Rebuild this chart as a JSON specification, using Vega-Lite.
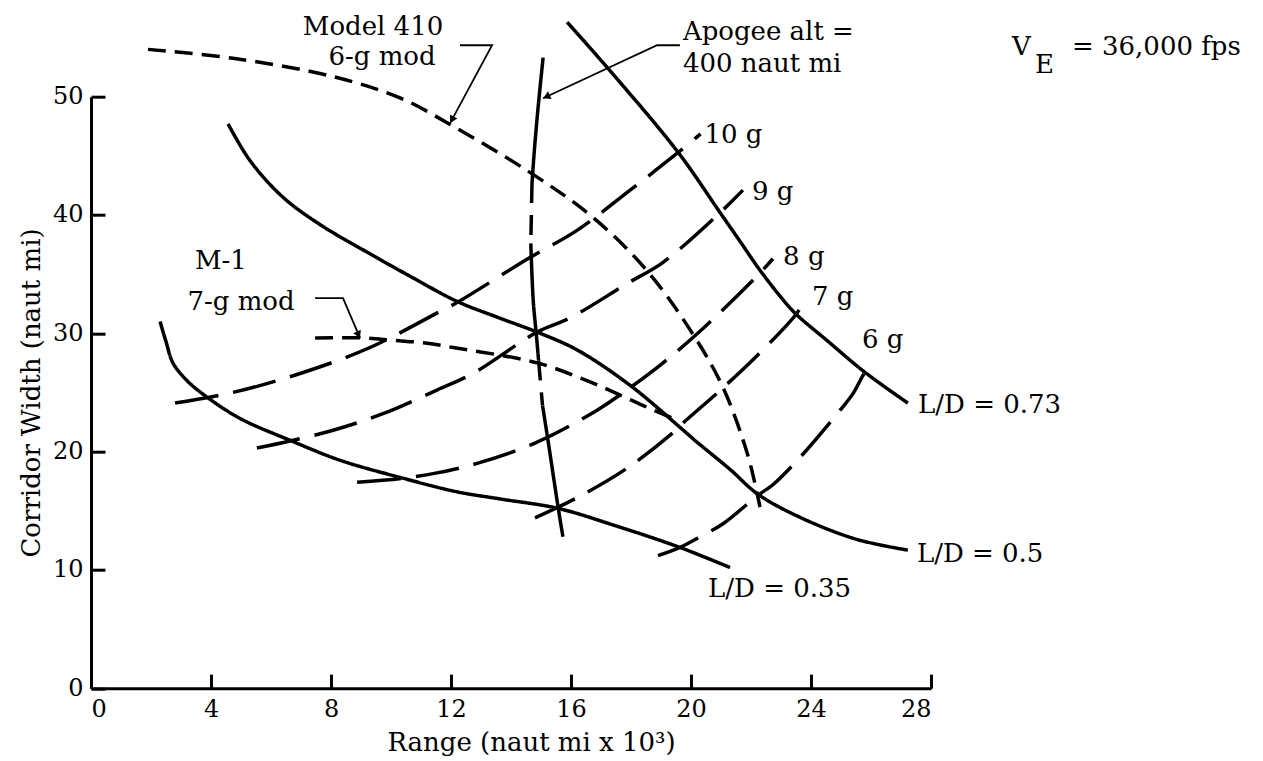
{
  "$schema": "https://vega.github.io/schema/vega-lite/v6.json",
  "width": 840,
  "height": 591.5,
  "autosize": {"type": "none"},
  "padding": {"left": 91, "top": 96.7, "right": 332, "bottom": 73},
  "background": "white",
  "config": {
    "view": {"stroke": null},
    "font": "DejaVu Serif",
    "axis": {
      "grid": false,
      "domainColor": "black",
      "domainWidth": 3,
      "tickColor": "black",
      "tickWidth": 3,
      "labelColor": "black",
      "labelFont": "DejaVu Serif",
      "labelFontSize": 24,
      "titleColor": "black",
      "titleFont": "DejaVu Serif",
      "titleFontSize": 26,
      "titleFontWeight": "normal"
    }
  },
  "datasets": {
    "curves": [
      {"curve": "L/D = 0.35", "i": 1, "x": 2.3, "y": 31.0},
      {"curve": "L/D = 0.35", "i": 2, "x": 2.5, "y": 29.3},
      {"curve": "L/D = 0.35", "i": 3, "x": 2.73, "y": 27.5},
      {"curve": "L/D = 0.35", "i": 4, "x": 3.2, "y": 26.0},
      {"curve": "L/D = 0.35", "i": 5, "x": 3.87, "y": 24.6},
      {"curve": "L/D = 0.35", "i": 6, "x": 4.97, "y": 22.8},
      {"curve": "L/D = 0.35", "i": 7, "x": 6.63, "y": 20.96},
      {"curve": "L/D = 0.35", "i": 8, "x": 8.3, "y": 19.27},
      {"curve": "L/D = 0.35", "i": 9, "x": 10.4, "y": 17.75},
      {"curve": "L/D = 0.35", "i": 10, "x": 12.2, "y": 16.6},
      {"curve": "L/D = 0.35", "i": 11, "x": 13.63, "y": 16.0},
      {"curve": "L/D = 0.35", "i": 12, "x": 15.57, "y": 15.2},
      {"curve": "L/D = 0.35", "i": 13, "x": 17.4, "y": 13.8},
      {"curve": "L/D = 0.35", "i": 14, "x": 19.63, "y": 11.9},
      {"curve": "L/D = 0.35", "i": 15, "x": 21.3, "y": 10.2},

      {"curve": "L/D = 0.5", "i": 1, "x": 4.57, "y": 47.7},
      {"curve": "L/D = 0.5", "i": 2, "x": 5.3, "y": 44.6},
      {"curve": "L/D = 0.5", "i": 3, "x": 6.4, "y": 41.5},
      {"curve": "L/D = 0.5", "i": 4, "x": 7.63, "y": 39.2},
      {"curve": "L/D = 0.5", "i": 5, "x": 9.2, "y": 36.86},
      {"curve": "L/D = 0.5", "i": 6, "x": 10.63, "y": 34.83},
      {"curve": "L/D = 0.5", "i": 7, "x": 12.2, "y": 32.7},
      {"curve": "L/D = 0.5", "i": 8, "x": 13.63, "y": 31.28},
      {"curve": "L/D = 0.5", "i": 9, "x": 14.87, "y": 30.1},
      {"curve": "L/D = 0.5", "i": 10, "x": 16.2, "y": 28.6},
      {"curve": "L/D = 0.5", "i": 11, "x": 17.97, "y": 25.6},
      {"curve": "L/D = 0.5", "i": 12, "x": 19.63, "y": 22.06},
      {"curve": "L/D = 0.5", "i": 13, "x": 20.2, "y": 20.8},
      {"curve": "L/D = 0.5", "i": 14, "x": 21.3, "y": 18.5},
      {"curve": "L/D = 0.5", "i": 15, "x": 22.23, "y": 16.4},
      {"curve": "L/D = 0.5", "i": 16, "x": 23.63, "y": 14.45},
      {"curve": "L/D = 0.5", "i": 17, "x": 25.5, "y": 12.6},
      {"curve": "L/D = 0.5", "i": 18, "x": 27.23, "y": 11.67},

      {"curve": "L/D = 0.73", "i": 1, "x": 15.87, "y": 56.3},
      {"curve": "L/D = 0.73", "i": 2, "x": 17.3, "y": 52.2},
      {"curve": "L/D = 0.73", "i": 3, "x": 19.57, "y": 45.3},
      {"curve": "L/D = 0.73", "i": 4, "x": 20.97, "y": 40.2},
      {"curve": "L/D = 0.73", "i": 5, "x": 21.63, "y": 37.79},
      {"curve": "L/D = 0.73", "i": 6, "x": 22.3, "y": 35.33},
      {"curve": "L/D = 0.73", "i": 7, "x": 22.97, "y": 33.14},
      {"curve": "L/D = 0.73", "i": 8, "x": 23.47, "y": 31.7},
      {"curve": "L/D = 0.73", "i": 9, "x": 24.53, "y": 29.4},
      {"curve": "L/D = 0.73", "i": 10, "x": 25.8, "y": 26.7},
      {"curve": "L/D = 0.73", "i": 11, "x": 27.23, "y": 24.1},

      {"curve": "Model 410 6-g mod", "i": 1, "x": 1.9, "y": 54.0},
      {"curve": "Model 410 6-g mod", "i": 2, "x": 4.73, "y": 53.25},
      {"curve": "Model 410 6-g mod", "i": 3, "x": 8.07, "y": 51.7},
      {"curve": "Model 410 6-g mod", "i": 4, "x": 10.3, "y": 49.9},
      {"curve": "Model 410 6-g mod", "i": 5, "x": 11.87, "y": 47.8},
      {"curve": "Model 410 6-g mod", "i": 6, "x": 14.63, "y": 43.6},
      {"curve": "Model 410 6-g mod", "i": 7, "x": 16.73, "y": 39.8},
      {"curve": "Model 410 6-g mod", "i": 8, "x": 18.53, "y": 35.3},
      {"curve": "Model 410 6-g mod", "i": 9, "x": 20.07, "y": 29.9},
      {"curve": "Model 410 6-g mod", "i": 10, "x": 21.07, "y": 25.4},
      {"curve": "Model 410 6-g mod", "i": 11, "x": 21.87, "y": 19.9},
      {"curve": "Model 410 6-g mod", "i": 12, "x": 22.2, "y": 16.5},
      {"curve": "Model 410 6-g mod", "i": 13, "x": 22.3, "y": 15.3},

      {"curve": "M-1 7-g mod", "i": 1, "x": 7.47, "y": 29.6},
      {"curve": "M-1 7-g mod", "i": 2, "x": 9.2, "y": 29.6},
      {"curve": "M-1 7-g mod", "i": 3, "x": 10.07, "y": 29.4},
      {"curve": "M-1 7-g mod", "i": 4, "x": 11.07, "y": 29.2},
      {"curve": "M-1 7-g mod", "i": 5, "x": 12.07, "y": 28.8},
      {"curve": "M-1 7-g mod", "i": 6, "x": 14.87, "y": 27.5},
      {"curve": "M-1 7-g mod", "i": 7, "x": 16.53, "y": 26.0},
      {"curve": "M-1 7-g mod", "i": 8, "x": 17.53, "y": 24.9},
      {"curve": "M-1 7-g mod", "i": 9, "x": 18.53, "y": 23.75},
      {"curve": "M-1 7-g mod", "i": 10, "x": 19.6, "y": 22.6},

      {"curve": "10 g", "i": 1, "x": 2.8, "y": 24.1},
      {"curve": "10 g", "i": 2, "x": 4.73, "y": 25.0},
      {"curve": "10 g", "i": 3, "x": 6.97, "y": 26.6},
      {"curve": "10 g", "i": 4, "x": 9.3, "y": 28.8},
      {"curve": "10 g", "i": 5, "x": 11.6, "y": 31.8},
      {"curve": "10 g", "i": 6, "x": 12.2, "y": 32.6},
      {"curve": "10 g", "i": 7, "x": 14.63, "y": 36.4},
      {"curve": "10 g", "i": 8, "x": 16.2, "y": 38.7},
      {"curve": "10 g", "i": 9, "x": 17.97, "y": 42.1},
      {"curve": "10 g", "i": 10, "x": 19.53, "y": 45.2},
      {"curve": "10 g", "i": 11, "x": 20.32, "y": 46.85},

      {"curve": "9 g", "i": 1, "x": 5.53, "y": 20.3},
      {"curve": "9 g", "i": 2, "x": 6.63, "y": 20.9},
      {"curve": "9 g", "i": 3, "x": 8.07, "y": 21.8},
      {"curve": "9 g", "i": 4, "x": 9.73, "y": 23.2},
      {"curve": "9 g", "i": 5, "x": 11.53, "y": 25.2},
      {"curve": "9 g", "i": 6, "x": 12.73, "y": 26.6},
      {"curve": "9 g", "i": 7, "x": 14.87, "y": 30.1},
      {"curve": "9 g", "i": 8, "x": 15.97, "y": 31.3},
      {"curve": "9 g", "i": 9, "x": 17.87, "y": 34.2},
      {"curve": "9 g", "i": 10, "x": 19.07, "y": 36.0},
      {"curve": "9 g", "i": 11, "x": 20.97, "y": 40.2},
      {"curve": "9 g", "i": 12, "x": 21.73, "y": 42.1},

      {"curve": "8 g", "i": 1, "x": 8.87, "y": 17.4},
      {"curve": "8 g", "i": 2, "x": 10.4, "y": 17.75},
      {"curve": "8 g", "i": 3, "x": 11.53, "y": 18.2},
      {"curve": "8 g", "i": 4, "x": 12.87, "y": 19.0},
      {"curve": "8 g", "i": 5, "x": 14.87, "y": 20.8},
      {"curve": "8 g", "i": 6, "x": 16.87, "y": 23.5},
      {"curve": "8 g", "i": 7, "x": 17.97, "y": 25.4},
      {"curve": "8 g", "i": 8, "x": 19.07, "y": 27.5},
      {"curve": "8 g", "i": 9, "x": 20.4, "y": 30.4},
      {"curve": "8 g", "i": 10, "x": 22.3, "y": 35.1},
      {"curve": "8 g", "i": 11, "x": 22.73, "y": 36.3},

      {"curve": "7 g", "i": 1, "x": 14.8, "y": 14.4},
      {"curve": "7 g", "i": 2, "x": 16.2, "y": 16.1},
      {"curve": "7 g", "i": 3, "x": 17.87, "y": 18.6},
      {"curve": "7 g", "i": 4, "x": 19.4, "y": 21.6},
      {"curve": "7 g", "i": 5, "x": 19.73, "y": 22.4},
      {"curve": "7 g", "i": 6, "x": 21.07, "y": 25.4},
      {"curve": "7 g", "i": 7, "x": 22.2, "y": 28.1},
      {"curve": "7 g", "i": 8, "x": 23.53, "y": 31.7},
      {"curve": "7 g", "i": 9, "x": 23.73, "y": 32.6},

      {"curve": "6 g", "i": 1, "x": 18.9, "y": 11.2},
      {"curve": "6 g", "i": 2, "x": 19.63, "y": 11.9},
      {"curve": "6 g", "i": 3, "x": 20.37, "y": 12.9},
      {"curve": "6 g", "i": 4, "x": 21.07, "y": 13.9},
      {"curve": "6 g", "i": 5, "x": 22.23, "y": 16.3},
      {"curve": "6 g", "i": 6, "x": 22.73, "y": 17.2},
      {"curve": "6 g", "i": 7, "x": 23.63, "y": 19.5},
      {"curve": "6 g", "i": 8, "x": 24.97, "y": 23.5},
      {"curve": "6 g", "i": 9, "x": 25.4, "y": 24.9},
      {"curve": "6 g", "i": 10, "x": 25.8, "y": 26.7},
      {"curve": "6 g", "i": 11, "x": 25.97, "y": 27.1},

      {"curve": "Apogee alt = 400 naut mi (a)", "i": 1, "x": 15.07, "y": 53.3},
      {"curve": "Apogee alt = 400 naut mi (a)", "i": 2, "x": 14.9, "y": 49.0},
      {"curve": "Apogee alt = 400 naut mi (a)", "i": 3, "x": 14.78, "y": 45.5},
      {"curve": "Apogee alt = 400 naut mi (a)", "i": 4, "x": 14.7, "y": 42.7},
      {"curve": "Apogee alt = 400 naut mi (b)", "i": 1, "x": 14.7, "y": 42.7},
      {"curve": "Apogee alt = 400 naut mi (b)", "i": 2, "x": 14.66, "y": 37.6},
      {"curve": "Apogee alt = 400 naut mi (c)", "i": 1, "x": 14.66, "y": 37.6},
      {"curve": "Apogee alt = 400 naut mi (c)", "i": 2, "x": 14.74, "y": 32.8},
      {"curve": "Apogee alt = 400 naut mi (c)", "i": 3, "x": 14.84, "y": 30.0},
      {"curve": "Apogee alt = 400 naut mi (c)", "i": 4, "x": 14.92, "y": 27.7},
      {"curve": "Apogee alt = 400 naut mi (d)", "i": 1, "x": 14.92, "y": 27.7},
      {"curve": "Apogee alt = 400 naut mi (d)", "i": 2, "x": 15.05, "y": 23.9},
      {"curve": "Apogee alt = 400 naut mi (e)", "i": 1, "x": 15.05, "y": 23.9},
      {"curve": "Apogee alt = 400 naut mi (e)", "i": 2, "x": 15.23, "y": 21.0},
      {"curve": "Apogee alt = 400 naut mi (e)", "i": 3, "x": 15.57, "y": 15.3},
      {"curve": "Apogee alt = 400 naut mi (e)", "i": 4, "x": 15.73, "y": 12.8}
    ],
    "leaders": [
      {"leader": "Model 410", "i": 1, "x": 12.3, "y": 54.35},
      {"leader": "Model 410", "i": 2, "x": 13.37, "y": 54.35},
      {"leader": "Model 410", "i": 3, "x": 11.97, "y": 47.76},
      {"leader": "Apogee", "i": 1, "x": 19.63, "y": 54.35},
      {"leader": "Apogee", "i": 2, "x": 18.87, "y": 54.35},
      {"leader": "Apogee", "i": 3, "x": 15.07, "y": 49.87},
      {"leader": "M-1", "i": 1, "x": 7.47, "y": 32.97},
      {"leader": "M-1", "i": 2, "x": 8.4, "y": 32.97},
      {"leader": "M-1", "i": 3, "x": 8.97, "y": 29.59}
    ],
    "arrows": [
      {"leader": "Model 410", "x": 12.05, "y": 48.14},
      {"leader": "Apogee", "x": 15.22, "y": 50.05},
      {"leader": "M-1", "x": 8.9, "y": 29.97}
    ],
    "labelsLeft": [
      {"text": "Apogee alt =", "x": 19.73, "y": 54.78},
      {"text": "400 naut mi", "x": 19.73, "y": 52.07},
      {"text": "10 g", "x": 20.45, "y": 46.07},
      {"text": "9 g", "x": 22.03, "y": 41.25},
      {"text": "8 g", "x": 23.07, "y": 35.76},
      {"text": "7 g", "x": 24.03, "y": 32.38},
      {"text": "6 g", "x": 25.7, "y": 28.74},
      {"text": "L/D = 0.73", "x": 27.57, "y": 23.25},
      {"text": "L/D = 0.5", "x": 27.53, "y": 10.65},
      {"text": "L/D = 0.35", "x": 20.57, "y": 7.69},
      {"text": "V", "x": 30.7, "y": 53.5},
      {"text": "E", "x": 31.47, "y": 51.99},
      {"text": "= 36,000 fps", "x": 32.7, "y": 53.5}
    ],
    "labelsCenter": [
      {"text": "Model 410", "x": 9.4, "y": 55.2},
      {"text": "6-g mod", "x": 9.7, "y": 52.66},
      {"text": "M-1", "x": 4.33, "y": 35.4},
      {"text": "7-g mod", "x": 5.0, "y": 31.95}
    ]
  },
  "encoding": {
    "x": {
      "field": "x",
      "type": "quantitative",
      "scale": {"domain": [0, 28], "nice": false, "zero": false},
      "axis": {
        "values": [0, 4, 8, 12, 16, 20, 24, 28],
        "tickSize": -14,
        "title": "Range (naut mi x 10³)",
        "labelPadding": 23,
        "titlePadding": 8,
        "titleX": 440
      }
    },
    "y": {
      "field": "y",
      "type": "quantitative",
      "scale": {"domain": [0, 50], "nice": false, "zero": false},
      "axis": {
        "values": [0, 10, 20, 30, 40, 50],
        "tickSize": -14,
        "title": "Corridor Width (naut mi)",
        "labelPadding": 22,
        "titlePadding": 8
      }
    }
  },
  "layer": [
    {
      "data": {"name": "curves"},
      "mark": {"type": "line", "color": "black", "strokeWidth": 3.5, "clip": false, "interpolate": "catmull-rom"},
      "encoding": {
        "detail": {"field": "curve", "type": "nominal"},
        "order": {"field": "i", "type": "quantitative"},
        "strokeDash": {
          "field": "curve",
          "type": "nominal",
          "legend": null,
          "scale": {
            "domain": [
              "L/D = 0.35", "L/D = 0.5", "L/D = 0.73",
              "Model 410 6-g mod", "M-1 7-g mod",
              "10 g", "9 g", "8 g", "7 g", "6 g",
              "Apogee alt = 400 naut mi (a)", "Apogee alt = 400 naut mi (b)",
              "Apogee alt = 400 naut mi (c)", "Apogee alt = 400 naut mi (d)",
              "Apogee alt = 400 naut mi (e)"
            ],
            "range": [
              [1, 0], [1, 0], [1, 0],
              [18, 9], [18, 9],
              [44, 15], [44, 15], [44, 15], [44, 15], [44, 15],
              [1, 0], [20, 12], [1, 0], [20, 12], [1, 0]
            ]
          }
        }
      }
    },
    {
      "data": {"name": "leaders"},
      "mark": {"type": "line", "color": "black", "strokeWidth": 1.8, "clip": false},
      "encoding": {
        "detail": {"field": "leader", "type": "nominal"},
        "order": {"field": "i", "type": "quantitative"}
      }
    },
    {
      "data": {"name": "arrows"},
      "transform": [{"filter": "datum.leader === 'Model 410'"}],
      "mark": {"type": "point", "shape": "triangle", "filled": true, "color": "black", "opacity": 1, "size": 70, "angle": 208, "clip": false}
    },
    {
      "data": {"name": "arrows"},
      "transform": [{"filter": "datum.leader === 'Apogee'"}],
      "mark": {"type": "point", "shape": "triangle", "filled": true, "color": "black", "opacity": 1, "size": 70, "angle": 245, "clip": false}
    },
    {
      "data": {"name": "arrows"},
      "transform": [{"filter": "datum.leader === 'M-1'"}],
      "mark": {"type": "point", "shape": "triangle", "filled": true, "color": "black", "opacity": 1, "size": 70, "angle": 156, "clip": false}
    },
    {
      "data": {"name": "labelsLeft"},
      "mark": {"type": "text", "align": "left", "baseline": "alphabetic", "font": "DejaVu Serif", "fontSize": 26, "color": "black", "clip": false},
      "encoding": {"text": {"field": "text", "type": "nominal"}}
    },
    {
      "data": {"name": "labelsCenter"},
      "mark": {"type": "text", "align": "center", "baseline": "alphabetic", "font": "DejaVu Serif", "fontSize": 26, "color": "black", "clip": false},
      "encoding": {"text": {"field": "text", "type": "nominal"}}
    }
  ]
}
